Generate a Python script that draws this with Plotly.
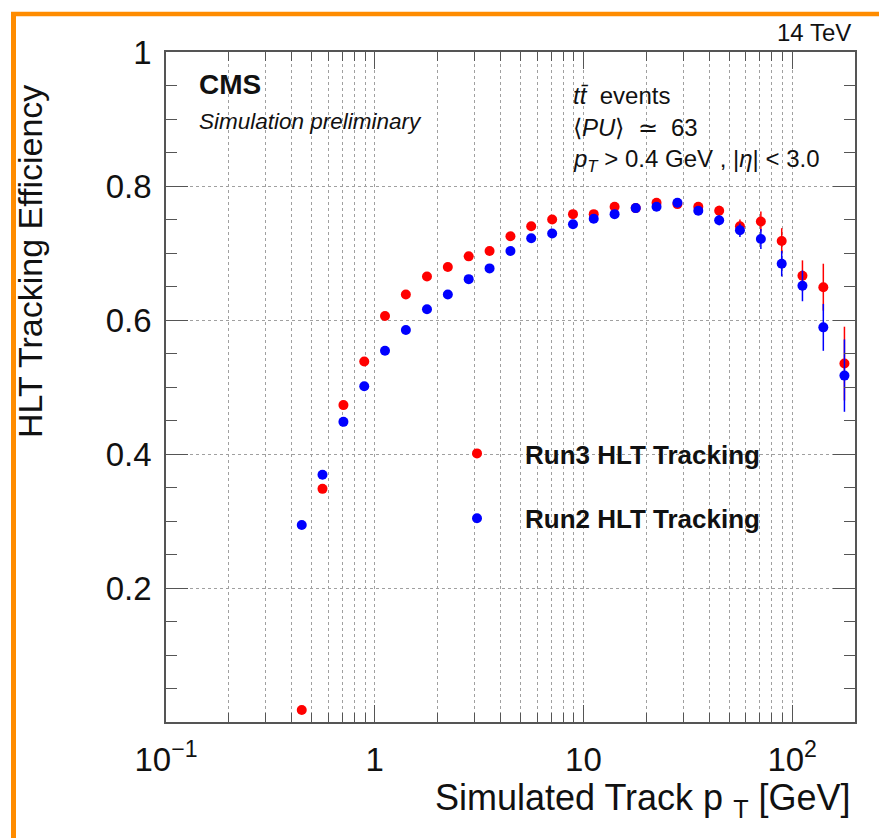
import plotly.graph_objects as go

# ---- data ----
pt_bins = [0.447, 0.562, 0.708, 0.891, 1.12, 1.41, 1.78, 2.24, 2.82, 3.55,
           4.47, 5.62, 7.08, 8.91, 11.2, 14.1, 17.8, 22.4, 28.2, 35.5,
           44.7, 56.2, 70.8, 89.1, 112, 141, 178]
run3_eff = [0.018, 0.348, 0.473, 0.538, 0.606, 0.638, 0.665, 0.679, 0.695, 0.703,
            0.725, 0.740, 0.750, 0.758, 0.758, 0.769, 0.767, 0.775, 0.773, 0.769,
            0.763, 0.740, 0.747, 0.718, 0.666, 0.649, 0.535]
run2_eff = [0.294, 0.369, 0.448, 0.501, 0.554, 0.585, 0.616, 0.638, 0.661, 0.677,
            0.703, 0.722, 0.729, 0.743, 0.751, 0.758, 0.767, 0.769, 0.775, 0.763,
            0.749, 0.734, 0.721, 0.684, 0.651, 0.589, 0.517]
run3_err = [0.002, 0.002, 0.002, 0.002, 0.002, 0.002, 0.002, 0.002, 0.002, 0.002,
            0.002, 0.002, 0.002, 0.002, 0.002, 0.003, 0.003, 0.003, 0.004, 0.005,
            0.0075, 0.010, 0.015, 0.019, 0.023, 0.035, 0.055]
run2_err = [0.002, 0.002, 0.002, 0.002, 0.002, 0.002, 0.002, 0.002, 0.002, 0.002,
            0.002, 0.002, 0.002, 0.002, 0.002, 0.003, 0.003, 0.003, 0.004, 0.005,
            0.0075, 0.010, 0.015, 0.019, 0.023, 0.035, 0.054]
series_names = ["Run3 HLT Tracking", "Run2 HLT Tracking"]
x_tickvals = [0.1, 1, 10, 100]
x_ticktext = ["10<sup>\u22121</sup>", "1", "10", "10<sup>2</sup>"]
y_tickvals = [0.2, 0.4, 0.6, 0.8, 1.0]
y_ticktext = ["0.2", "0.4", "0.6", "0.8", "1"]

W, H = 879, 838
L, R, T, B = 166, 24, 52, 116
PW, PH = W - L - R, H - T - B


def px(x):
    return (x - L) / PW


def py(y):
    return (H - B - y) / PH


FONT = "Liberation Sans, Arial, Helvetica, sans-serif"
AXC = "#555555"
GRIDC = "#a0a0a0"

fig = go.Figure()
fig.add_trace(go.Scatter(
    x=pt_bins, y=run3_eff, mode="markers", name=series_names[0],
    marker=dict(color="#ff0000", size=10),
    error_y=dict(type="data", array=run3_err, color="#ff0000", thickness=1.5, width=0),
    legendgroup="a",
))
fig.add_trace(go.Scatter(
    x=pt_bins, y=run2_eff, mode="markers", name=series_names[1],
    marker=dict(color="#0000ff", size=10),
    error_y=dict(type="data", array=run2_err, color="#0000ff", thickness=1.5, width=0),
    legendgroup="b",
))

fig.update_xaxes(
    type="log", range=[-1, 2.301],
    tickvals=x_tickvals, ticktext=x_ticktext,
    ticks="inside", ticklen=17, tickwidth=1.2, tickcolor=AXC,
    showline=True, linecolor=AXC, linewidth=1.5, mirror="allticks",
    showgrid=True, gridcolor=GRIDC, griddash="dot", gridwidth=1,
    minor=dict(dtick="D1", ticks="inside", ticklen=9, tickcolor=AXC, tickwidth=1.2,
               showgrid=True, gridcolor=GRIDC, griddash="dot", gridwidth=1),
    tickfont=dict(family=FONT, size=33, color="#111"),
    ticklabelstandoff=8,
    zeroline=False,
)
fig.update_yaxes(
    range=[0, 1],
    tickvals=y_tickvals, ticktext=y_ticktext,
    ticks="inside", ticklen=22, tickwidth=1.2, tickcolor=AXC,
    showline=True, linecolor=AXC, linewidth=1.5, mirror="allticks",
    showgrid=True, gridcolor=GRIDC, griddash="dot", gridwidth=1,
    minor=dict(tick0=0, dtick=0.05, ticks="inside", ticklen=11, tickcolor=AXC,
               tickwidth=1.2, showgrid=False),
    tickfont=dict(family=FONT, size=33, color="#111"),
    ticklabelstandoff=6,
    zeroline=False,
)

ann = []
ann.append(dict(x=px(853), y=py(800), xref="paper", yref="paper", xanchor="right",
                yanchor="middle", showarrow=False,
                text="Simulated Track p <sub>T</sub> [GeV]",
                font=dict(family=FONT, size=36, color="#111")))
ann.append(dict(x=px(30), y=py(262), xref="paper", yref="paper", xanchor="center",
                yanchor="middle", showarrow=False, textangle=-90,
                text="HLT Tracking Efficiency",
                font=dict(family=FONT, size=34, color="#111")))
ann.append(dict(x=px(197), y=py(84), xref="paper", yref="paper", xanchor="left",
                yanchor="middle", showarrow=False, text="<b>CMS</b>",
                font=dict(family=FONT, size=28, color="#111")))
ann.append(dict(x=px(197), y=py(122), xref="paper", yref="paper", xanchor="left",
                yanchor="middle", showarrow=False, text="<i>Simulation preliminary</i>",
                font=dict(family=FONT, size=22.5, color="#111")))
ann.append(dict(x=px(853), y=py(33), xref="paper", yref="paper", xanchor="right",
                yanchor="middle", showarrow=False, text="14 TeV",
                font=dict(family=FONT, size=24, color="#111")))
ann.append(dict(x=px(571), y=py(95), xref="paper", yref="paper", xanchor="left",
                yanchor="middle", showarrow=False, text="<i>tt\u0304</i>  events",
                font=dict(family=FONT, size=24, color="#111")))
ann.append(dict(x=px(571), y=py(127), xref="paper", yref="paper", xanchor="left",
                yanchor="middle", showarrow=False, text="\u27e8<i>PU</i>\u27e9  \u2243  63",
                font=dict(family=FONT, size=24, color="#111")))
ann.append(dict(x=px(571), y=py(160), xref="paper", yref="paper", xanchor="left",
                yanchor="middle", showarrow=False,
                text="<i>p</i><sub><i>T</i></sub> &gt; 0.4 GeV , |<i>\u03b7</i>| &lt; 3.0",
                font=dict(family=FONT, size=24, color="#111")))

orange = "#ff8c00"
shapes = [
    dict(type="line", xref="paper", yref="paper", x0=px(11), x1=px(879),
         y0=py(14), y1=py(14), line=dict(color=orange, width=4.5)),
    dict(type="line", xref="paper", yref="paper", x0=px(13.5), x1=px(13.5),
         y0=py(12), y1=py(838), line=dict(color=orange, width=5)),
]

fig.update_layout(
    width=W, height=H,
    margin=dict(l=L, r=R, t=T, b=B, autoexpand=False),
    paper_bgcolor="white", plot_bgcolor="white",
    annotations=ann, shapes=shapes,
    showlegend=True,
    legend=dict(x=px(429), y=py(430), xanchor="left", yanchor="top",
                bgcolor="rgba(0,0,0,0)", borderwidth=0,
                font=dict(family=FONT, size=26, color="#111", weight="bold"),
                itemwidth=86, tracegroupgap=28, traceorder="grouped"),
)

fig.write_html("out.html")
